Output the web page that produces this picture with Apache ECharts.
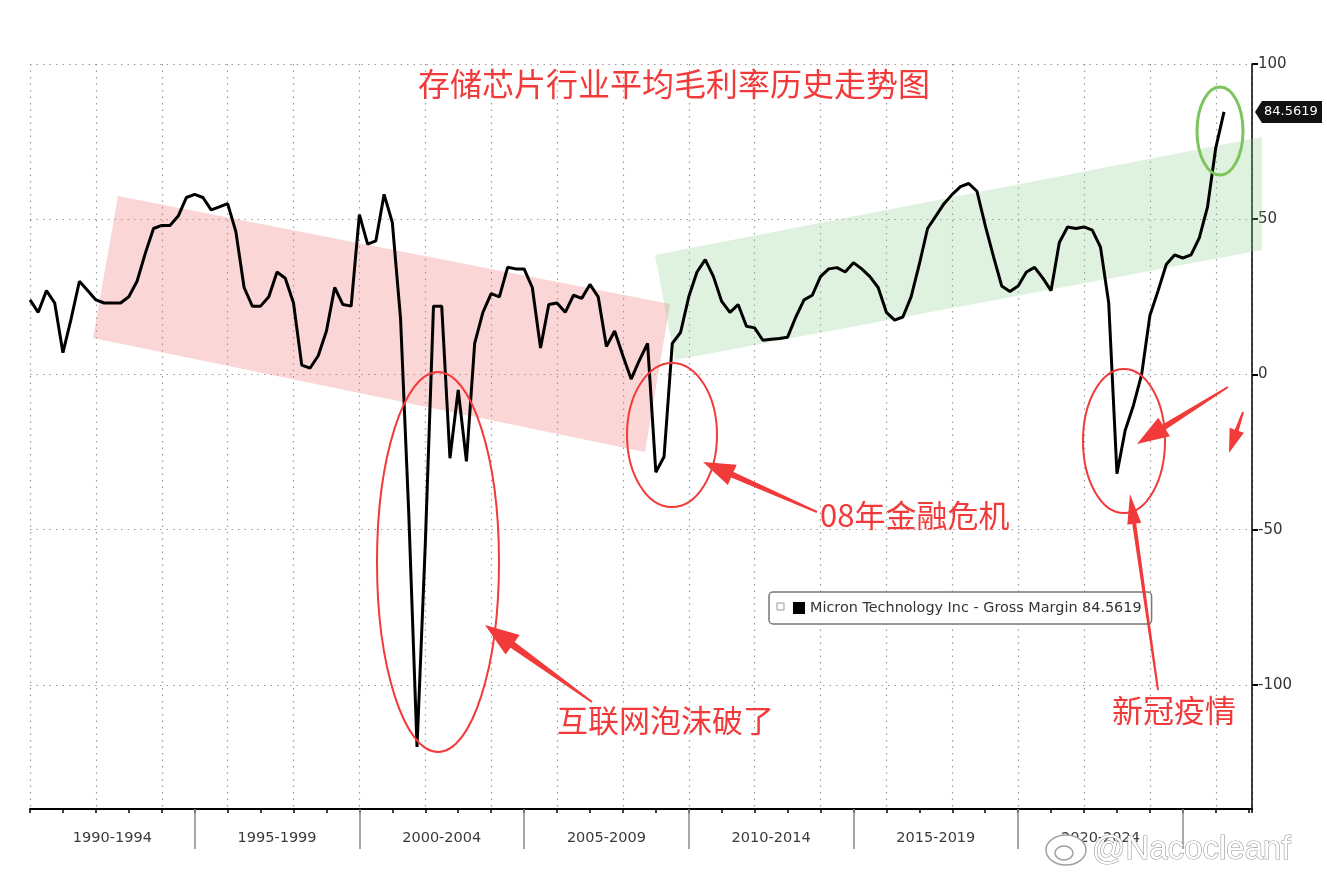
<!DOCTYPE html>
<html>
<head>
<meta charset="utf-8">
<script src="https://cdn.jsdelivr.net/npm/echarts@6/dist/echarts.min.js"></script>
<style>
  html, body { margin: 0; padding: 0; background: #fff; }
  #chart { width: 1327px; height: 876px; }
</style>
</head>
<body>
<div id="chart"></div>
<script>
// quarterly gross margin (%), first quarter = 1990 Q1
const startYear = 1990;
const grossMargin = [
  24, 20, 27, 23, 7, 18, 30, 27, 24, 23,
  23, 23, 25, 30, 39, 47, 48, 48, 51, 57,
  58, 57, 53, 54, 55, 46, 28, 22, 22, 25,
  33, 31, 23, 3, 2, 6, 14, 28, 22.5, 22,
  51.5, 42, 43, 58, 49, 18, -45, -120, -55, 22,
  22, -27, -5, -28, 10, 20, 26, 25, 34.5, 34,
  34, 28, 8.5, 22.5, 23, 20, 25.5, 24.5, 29, 25,
  9, 14, 6, -1.5, 4.5, 10, -31.5, -26.5, 10, 13.5,
  25, 33, 37, 31.5, 23.5, 20, 22.5, 15.5, 15, 11,
  11.3, 11.6, 12, 18.5, 24, 25.5, 31.5, 34, 34.4, 33,
  36, 34, 31.5, 28, 20, 17.5, 18.5, 25, 35.5, 47,
  51, 55, 58, 60.5, 61.5, 59, 48, 38, 28.5, 26.7,
  28.5, 33, 34.5, 31, 27, 42.5, 47.5, 47, 47.5, 46.5,
  41, 23, -32, -18, -10, 0, 19, 27, 35.5, 38.5,
  37.5, 38.5, 44, 54, 73, 84.5619
];
const seriesName = 'Micron Technology Inc - Gross Margin';
const bandStarts = [1990, 1995, 2000, 2005, 2010, 2015, 2020];
const bandEdges = [1995, 2000, 2005, 2010, 2015, 2020, 2025];
const yTicks = [-100, -50, 0, 50, 100];

const chartTitle = '存储芯片行业平均毛利率历史走势图';
const noteDotcom = '互联网泡沫破了';
const noteCrisis = '08年金融危机';
const noteCovid = '新冠疫情';
const watermark = '@Nacocleanf';

const lineData = grossMargin.map((v, i) => [startYear + i / 4, v]);
const lastValue = grossMargin[grossMargin.length - 1];

const RED = '#f23a3a';
const X_MIN = 1990, X_MAX = 2027.1;
const yearPx = (1327 - 30 - 75) / (X_MAX - X_MIN);

const chart = echarts.init(document.getElementById('chart'));

const dotted = { color: '#9a9a9a', width: 1.2, type: [1.5, 5] };

chart.setOption({
  animation: false,
  backgroundColor: '#fff',
  title: {
    text: chartTitle,
    left: 413,
    top: 63,
    textStyle: { color: RED, fontSize: 32, fontWeight: 'normal', fontFamily: 'Noto Sans CJK SC' }
  },
  legend: {
    left: 769,
    top: 592,
    padding: [9, 10, 9, 24],
    itemWidth: 12,
    itemHeight: 12,
    itemGap: 5,
    icon: 'rect',
    borderColor: '#777',
    borderWidth: 1.5,
    borderRadius: 4,
    backgroundColor: '#fff',
    formatter: name => name + ' ' + lastValue,
    textStyle: { color: '#333', fontSize: 14.4, fontFamily: 'DejaVu Sans' }
  },
  grid: { left: 30, right: 75, top: 64, bottom: 67 },
  xAxis: [
    {
      // dotted grid every 2 years
      type: 'value', min: X_MIN, max: X_MAX, interval: 2, position: 'bottom',
      axisLine: { show: true, onZero: false, lineStyle: { color: '#000', width: 2 } },
      axisTick: { show: false },
      axisLabel: { show: false },
      splitLine: { show: true, lineStyle: dotted }
    },
    {
      // small yearly ticks
      type: 'value', min: X_MIN, max: X_MAX, interval: 1, position: 'bottom',
      axisLine: { show: false, onZero: false },
      axisTick: { show: true, length: 4, lineStyle: { color: '#000', width: 1.5 } },
      axisLabel: { show: false },
      splitLine: { show: false }
    },
    {
      // 5-year bands with centred labels
      type: 'value', min: X_MIN, max: X_MAX, position: 'bottom',
      axisLine: { show: false, onZero: false },
      axisTick: { show: true, length: 40, customValues: bandEdges, lineStyle: { color: '#8a8a8a', width: 1.5 } },
      axisLabel: {
        show: true,
        customValues: bandStarts,
        align: 'left',
        margin: 22,
        formatter: v => '{a|' + v + '-' + (v + 4) + '}',
        rich: {
          a: { width: 5 * yearPx, align: 'center', color: '#3a3a3a', fontSize: 14.5, fontFamily: 'DejaVu Sans' }
        }
      },
      splitLine: { show: false }
    }
  ],
  yAxis: {
    type: 'value',
    position: 'right',
    min: -140,
    max: 100,
    axisLine: { show: true, onZero: false, lineStyle: { color: '#000', width: 1.5 } },
    axisTick: { show: true, length: 6, customValues: yTicks, lineStyle: { color: '#000', width: 2 } },
    axisLabel: { customValues: yTicks, color: '#333', fontSize: 15, margin: 6, fontFamily: 'DejaVu Sans' },
    splitLine: { show: true, lineStyle: dotted }
  },
  series: [{
    name: seriesName,
    type: 'line',
    xAxisIndex: 0,
    data: lineData,
    showSymbol: false,
    lineStyle: { color: '#000', width: 3 },
    itemStyle: { color: '#000' },
    z: 5
  }]
});

// red arrows drawn as tapered polygons
function arrow(x1, y1, x2, y2, headLen, headW, tailW, neckW) {
  const dx = x2 - x1, dy = y2 - y1, len = Math.hypot(dx, dy);
  const ux = dx / len, uy = dy / len, nx = -uy, ny = ux;
  const bx = x2 - ux * headLen, by = y2 - uy * headLen;
  return {
    type: 'polygon', z: 100,
    shape: { points: [
      [x1 + nx * tailW / 2, y1 + ny * tailW / 2],
      [bx + nx * neckW / 2, by + ny * neckW / 2],
      [bx + nx * headW / 2, by + ny * headW / 2],
      [x2, y2],
      [bx - nx * headW / 2, by - ny * headW / 2],
      [bx - nx * neckW / 2, by - ny * neckW / 2],
      [x1 - nx * tailW / 2, y1 - ny * tailW / 2]
    ] },
    style: { fill: RED }
  };
}

function ring(cx, cy, rx, ry, color, w) {
  return { type: 'ellipse', z: 100, shape: { cx, cy, rx, ry }, style: { fill: 'none', stroke: color, lineWidth: w } };
}

function note(text, x, y) {
  return {
    type: 'text', z: 100, x, y,
    style: { text, fill: RED, font: '31px "Noto Sans CJK SC"', textVerticalAlign: 'middle' }
  };
}

const tagY = chart.convertToPixel({ yAxisIndex: 0 }, lastValue);

chart.setOption({
  graphic: [
    // trend bands
    { type: 'polygon', z: 1, shape: { points: [[118, 196], [670, 304], [645, 452], [93, 338]] },
      style: { fill: 'rgba(238, 120, 120, 0.3)' } },
    { type: 'polygon', z: 1, shape: { points: [[655, 255], [1262, 137], [1262, 250], [675, 360]] },
      style: { fill: 'rgba(140, 205, 140, 0.28)' } },
    // circles
    ring(438, 562, 61, 190, RED, 2),
    ring(672, 435, 45, 72, RED, 2),
    ring(1124, 441, 41, 72, RED, 2),
    ring(1220, 131, 23, 44, '#7cc45c', 3),
    // arrows
    arrow(592, 702, 485, 625, 34, 24, 2, 7),
    arrow(817, 512, 703, 462, 32, 22, 2, 6),
    arrow(1158, 690, 1130, 494, 30, 14, 2, 4),
    arrow(1228, 387, 1137, 444, 32, 22, 2, 6),
    arrow(1243, 412, 1229, 453, 24, 15, 2, 4),
    // notes
    note(noteDotcom, 557, 720),
    note(noteCrisis, 820, 515),
    note(noteCovid, 1112, 710),
    // legend box toggle icon
    { type: 'rect', z: 200, shape: { x: 777, y: 603, width: 7, height: 7 },
      style: { fill: '#fff', stroke: '#999', lineWidth: 1 } },
    // last value tag
    { type: 'polygon', z: 100, shape: { points: [[1255, tagY], [1262, tagY - 11], [1322, tagY - 11], [1322, tagY + 11], [1262, tagY + 11]] },
      style: { fill: '#111' } },
    { type: 'text', z: 101, x: 1264, y: tagY,
      style: { text: String(lastValue), fill: '#fff', font: '13px "DejaVu Sans"', textVerticalAlign: 'middle' } },
    // watermark
    { type: 'ellipse', z: 300, shape: { cx: 1066, cy: 850, rx: 20, ry: 15 },
      style: { fill: '#fff', stroke: '#a0a0a0', lineWidth: 1.5 } },
    { type: 'ellipse', z: 301, shape: { cx: 1064, cy: 853, rx: 9, ry: 7 },
      style: { fill: 'none', stroke: '#a0a0a0', lineWidth: 1.5 } },
    { type: 'text', z: 300, x: 1092, y: 850,
      style: { text: watermark, fill: '#fff', stroke: '#9a9a9a', lineWidth: 1.2, font: '33px "Liberation Sans"', textVerticalAlign: 'middle' } }
  ]
});
</script>
</body>
</html>
